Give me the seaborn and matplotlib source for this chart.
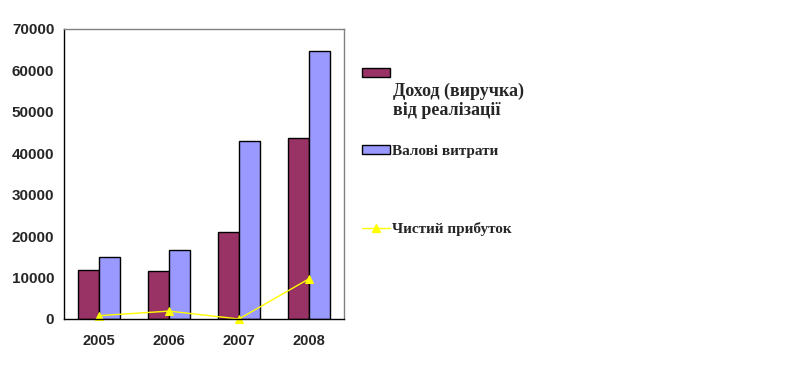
import pandas as pd
import numpy as np
import matplotlib.pyplot as plt
import seaborn as sns
from matplotlib.patches import Patch
from matplotlib.lines import Line2D

years = ['2005', '2006', '2007', '2008']
income = [11800, 11600, 21000, 43700]
costs = [15000, 16700, 43000, 64700]
profit = [800, 1900, 0, 9700]
series_names = ['Доход (виручка)\nвід реалізації', 'Валові витрати', 'Чистий прибуток']

df = pd.DataFrame({'Year': years * 2,
                   'Value': income + costs,
                   'Series': [series_names[0]] * 4 + [series_names[1]] * 4})

sns.set_style('white')
plt.rcParams['font.family'] = ['Liberation Sans', 'DejaVu Sans']

fig = plt.figure(figsize=(7.94, 3.68), dpi=100)
ax = fig.add_axes([0.0806, 0.1332, 0.3526, 0.788])

sns.barplot(data=df, x='Year', y='Value', hue='Series', palette=['#993366', '#9999FF'],
            width=0.6, edgecolor='black', linewidth=1, ax=ax, legend=False, saturation=1)
sns.pointplot(x=years, y=profit, color='#FFFF00', markers='^', markersize=6,
              linewidth=1, ax=ax)
for coll in ax.collections + ax.lines:
    coll.set_clip_on(False)

ax.set_xlim(-0.5, 3.5)
ax.set_ylim(0, 70000)
ax.set_yticks(np.arange(0, 70001, 10000))
ax.set_xlabel('')
ax.set_ylabel('')
ax.set_xticks(range(4))
ax.set_xticklabels(years, fontweight='bold', fontsize=10.5)
ax.set_xticks(np.arange(-0.5, 3.6, 1), minor=True)
ax.tick_params(axis='x', which='major', length=0, pad=11)
ax.tick_params(axis='x', which='minor', length=5, direction='out', width=1)
ax.tick_params(axis='y', length=5, direction='out', width=1, labelsize=11, pad=2)
for lab in ax.get_yticklabels():
    lab.set_fontweight('bold')
for s in ['left', 'bottom']:
    ax.spines[s].set_color('black')
    ax.spines[s].set_linewidth(1)
for s in ['top', 'right']:
    ax.spines[s].set_color('#808080')
    ax.spines[s].set_linewidth(1)

handles = [Patch(facecolor='#993366', edgecolor='black', linewidth=1),
           Patch(facecolor='#9999FF', edgecolor='black', linewidth=1),
           Line2D([], [], color='#FFFF00', marker='^', markersize=6, linewidth=1)]
leg = fig.legend(handles, ['', series_names[1], series_names[2]],
                 loc='upper left', bbox_to_anchor=(0.438, 0.853), frameon=False,
                 labelspacing=4.2, handlelength=1.85, handleheight=0.5,
                 handletextpad=0.15,
                 prop={'family': 'Liberation Serif', 'weight': 'bold', 'size': 11})
fig.text(0.495, 0.775, series_names[0], ha='left', va='top', family='Liberation Serif',
         fontweight='bold', fontsize=13, linespacing=1.15)

fig.savefig('out.png', dpi=100)
